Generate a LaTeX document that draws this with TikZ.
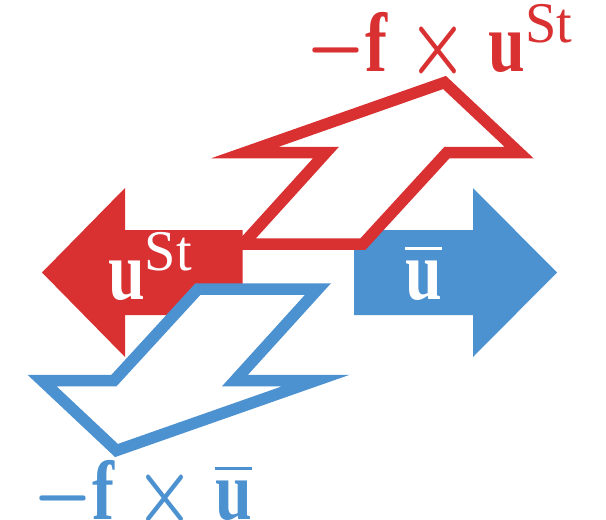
\documentclass[tikz,border=0pt]{standalone}
\usepackage{amsmath}
\usepackage{graphicx}
\usepackage{fontspec}
\setmainfont{Liberation Serif}
\definecolor{cred}{RGB}{217,48,50}
\definecolor{cblue}{RGB}{76,145,208}
\newcommand{\bigmath}[1]{\scalebox{6.6}[8.4]{\boldmath$#1$}}
\newcommand{\bu}{\text{\bfseries u}}
\newcommand{\bff}{\text{\bfseries f}}
\newcommand{\supst}{^{\text{\raisebox{-0.25pt}{\scalebox{1.22}[0.98]{St}}}}}
\newcommand{\tms}{\mkern1mu\times\mkern1mu}
\begin{document}
\begin{tikzpicture}[x=1pt,y=-1pt,
  boltline/.style={line width=11.5pt, line join=miter, fill=white},
  lbl/.style={inner sep=0pt, anchor=base west}]
\useasboundingbox (0,0) rectangle (606,520);
% solid arrows
\fill[cred] (42,272.5) -- (125,188) -- (125,230) -- (242.5,230) -- (242.5,315) -- (125,315) -- (125,357) -- cycle;
\fill[cblue] (557,272.5) -- (473,188) -- (473,230) -- (354,230) -- (354,315) -- (473,315) -- (473,357) -- cycle;
% bolts
\draw[boltline, draw=cred] (444.5,82.5) -- (519,152.5) -- (447,152.5) -- (363,244) -- (243,244) -- (326,152.5) -- (245,152.5) -- cycle;
\draw[boltline, draw=cblue, rotate around={180:(280.5,266.5)}] (444.5,82.5) -- (519,152.5) -- (447,152.5) -- (363,244) -- (243,244) -- (326,152.5) -- (245,152.5) -- cycle;
% labels
\node[lbl, text=white] (ust) at (108,299) {\bigmath{\bu\supst}};
\node[lbl, text=white] (ubar) at (405,299) {\bigmath{\overline{\bu}}};
\node[lbl, text=cred] (topl) at (306,71) {\bigmath{-\bff\tms\bu\supst}};
\node[lbl, text=cblue] (botl) at (33,519) {\bigmath{-\bff\tms\overline{\bu}}};
\end{tikzpicture}
\end{document}
